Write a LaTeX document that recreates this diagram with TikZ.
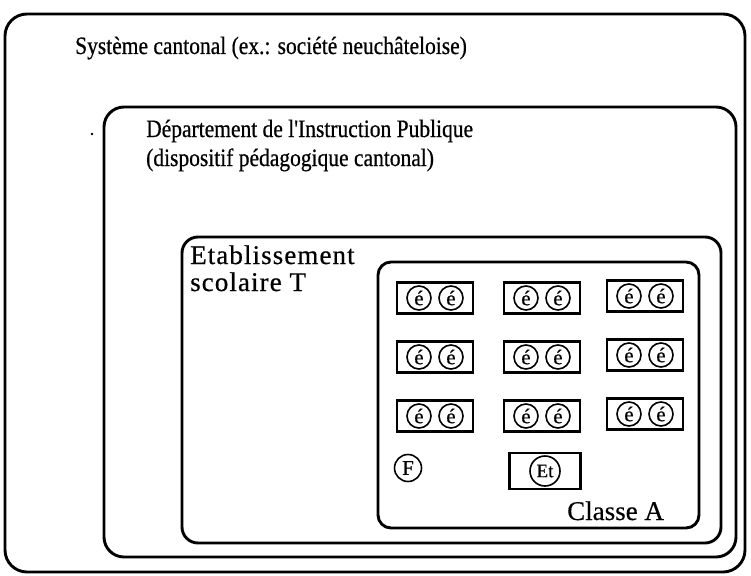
\documentclass[tikz,border=0pt]{standalone}
\usepackage{fontspec}
\setmainfont{Liberation Serif}
\newfontfamily\labfont[FakeStretch=0.86,FakeBold=0.6]{Liberation Serif}
\newfontfamily\widefont[LetterSpace=4,FakeBold=0.6]{Liberation Serif}
\newfontfamily\markfont[FakeBold=0.5]{Liberation Serif}
\begin{document}
\begin{tikzpicture}[x=1pt,y=-1pt,
  frame/.style={draw=black,line width=2.9pt,rounded corners=#1},
  label/.style={anchor=base west,inner sep=0pt,font=\labfont\fontsize{25}{29}\selectfont},
  widelabel/.style={anchor=base west,inner sep=0pt,font=\widefont\fontsize{27}{29}\selectfont},
  desk/.style={draw=black,line width=2.1pt,minimum width=76pt,minimum height=31pt,inner sep=0pt},
  pupil/.style={draw=black,line width=1.6pt,circle,minimum size=24pt,inner sep=0pt,font=\markfont\fontsize{21}{21}\selectfont},
  bigpupil/.style={draw=black,line width=1.6pt,circle,minimum size=27pt,inner sep=0pt,font=\markfont\fontsize{21}{21}\selectfont}]
\useasboundingbox (0,0) rectangle (751,575);

% nested institutional levels
\draw[frame=22pt] (5,14) rectangle (745,572);
\draw[frame=20pt] (104,107) rectangle (736,557);
\draw[frame=16pt] (182,237) rectangle (721,543);
\draw[frame=13pt] (378,262) rectangle (699,528);

% level titles
\node[label] (tcanton) at (75,54) {Système cantonal (ex.: société neuchâteloise)};
\node[label] (tdip) at (146,137) {Département de l'Instruction Publique};
\node[label] (tdip2) at (146,166) {(dispositif pédagogique cantonal)};
\node[widelabel] (tetab) at (190,264) {Etablissement};
\node[widelabel] (tetab2) at (190,291) {scolaire T};
\node[anchor=base west,inner sep=0pt,font=\markfont\fontsize{27}{27}\selectfont] (tclasse) at (567,520) {Classe A};

% stray mark
\fill (92,134) circle (1.3pt);

% desks with two pupils each
\foreach \r/\y in {1/298,2/357,3/416}{
  \foreach \c/\x/\dy in {1/435/0,2/542/0,3/645/-2}{
    \node[desk] (d\r\c) at (\x,\y+\dy) {};
    \node[pupil] (p\r\c a) at ([xshift=-16pt]d\r\c.center) {é};
    \node[pupil] (p\r\c b) at ([xshift=16pt]d\r\c.center) {é};
  }
}

% teacher and pupil at the front desk
\node[bigpupil] (teacher) at (408,468) {F};
\node[desk,minimum width=71pt,minimum height=36pt] (etdesk) at (545,471) {};
\node[bigpupil,minimum size=30pt,font=\markfont\fontsize{19}{19}\selectfont] (et) at (etdesk.center) {Et};
\end{tikzpicture}
\end{document}
